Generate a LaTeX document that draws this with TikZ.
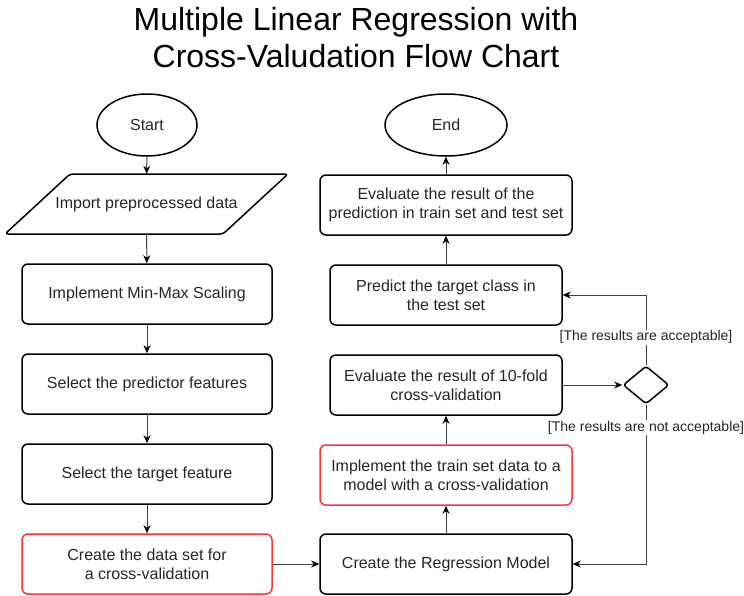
\documentclass[tikz,border=0pt]{standalone}
\usepackage{fontspec}
\setmainfont{Liberation Sans}
\usetikzlibrary{shapes.geometric,arrows.meta}

\begin{document}
\begin{tikzpicture}[x=1pt,y=-1pt,
	every node/.style={font=\fontsize{16}{19.2}\selectfont, text=black!85},
	procbox/.style={draw, line width=1.5pt, rounded corners=6pt, minimum height=60pt, align=center, inner sep=0pt},
	redbox/.style={procbox, draw=red!80!white},
	termnode/.style={draw, ellipse, line width=1.5pt, minimum height=62pt, inner sep=0pt},
	iobox/.style={line width=1.5pt, rounded corners=3pt, line join=round},
	decide/.style={draw, diamond, line width=1.5pt, minimum width=46pt, minimum height=38pt, inner sep=0pt, rounded corners=3pt},
	flow/.style={draw=black!75, line width=1pt, -{Stealth[black, length=8pt, width=7pt, inset=2.5pt]}},
	guard/.style={font=\fontsize{14}{16}\selectfont, fill=white, inner sep=1pt}
]
	\useasboundingbox (0,0) rectangle (744,595);

	% title
	\node[font=\fontsize{32}{37}\selectfont, align=center, text=black] (title) at (356,38)
		{Multiple Linear Regression with\\Cross-Valudation Flow Chart};

	% left column
	\node[termnode, minimum width=100pt] (start) at (147,125) {Start};
	\node[minimum width=218pt, minimum height=60pt, inner sep=0pt] (import) at (146.5,204) {Import preprocessed data};
	\draw[iobox] (5,234) -- (70,174) -- (288,174) -- (223,234) -- cycle;
	\node[procbox, minimum width=250pt] (scale) at (147,294) {Implement Min-Max Scaling};
	\node[procbox, minimum width=250pt] (predictors) at (147,384) {Select the predictor features};
	\node[procbox, minimum width=250pt] (target) at (147,474) {Select the target feature};
	\node[redbox, minimum width=250pt] (dataset) at (147,564) {Create the data set for\\a cross-validation};

	% right column
	\node[termnode, minimum width=122pt] (end) at (446,125) {End};
	\node[procbox, minimum width=252pt] (evalpred) at (446,205) {Evaluate the result of the\\prediction in train set and test set};
	\node[procbox, minimum width=232pt] (predict) at (446,295) {Predict the target class in\\the test set};
	\node[procbox, minimum width=232pt] (evalcv) at (446,385) {Evaluate the result of 10-fold\\cross-validation};
	\node[redbox, minimum width=252pt] (train) at (446,475) {Implement the train set data to a\\model with a cross-validation};
	\node[procbox, minimum width=252pt] (model) at (446,564) {Create the Regression Model};
	\node[decide] (check) at (646,385) {};

	% connectors
	\draw[flow] (start) -- (import);
	\draw[flow] (import) -- (scale);
	\draw[flow] (scale) -- (predictors);
	\draw[flow] (predictors) -- (target);
	\draw[flow] (target) -- (dataset);
	\draw[flow] (dataset) -- (model);
	\draw[flow] (model) -- (train);
	\draw[flow] (train) -- (evalcv);
	\draw[flow] (evalcv) -- (check);
	\draw[flow] (predict) -- (evalpred);
	\draw[flow] (evalpred) -- (end);
	\draw[flow] (check.north) |- node[guard, pos=0.2] {[The results are acceptable]} (predict.east);
	\draw[flow] (check.south) |- node[guard, pos=0.072] {[The results are not acceptable]} (model.east);
\end{tikzpicture}
\end{document}
